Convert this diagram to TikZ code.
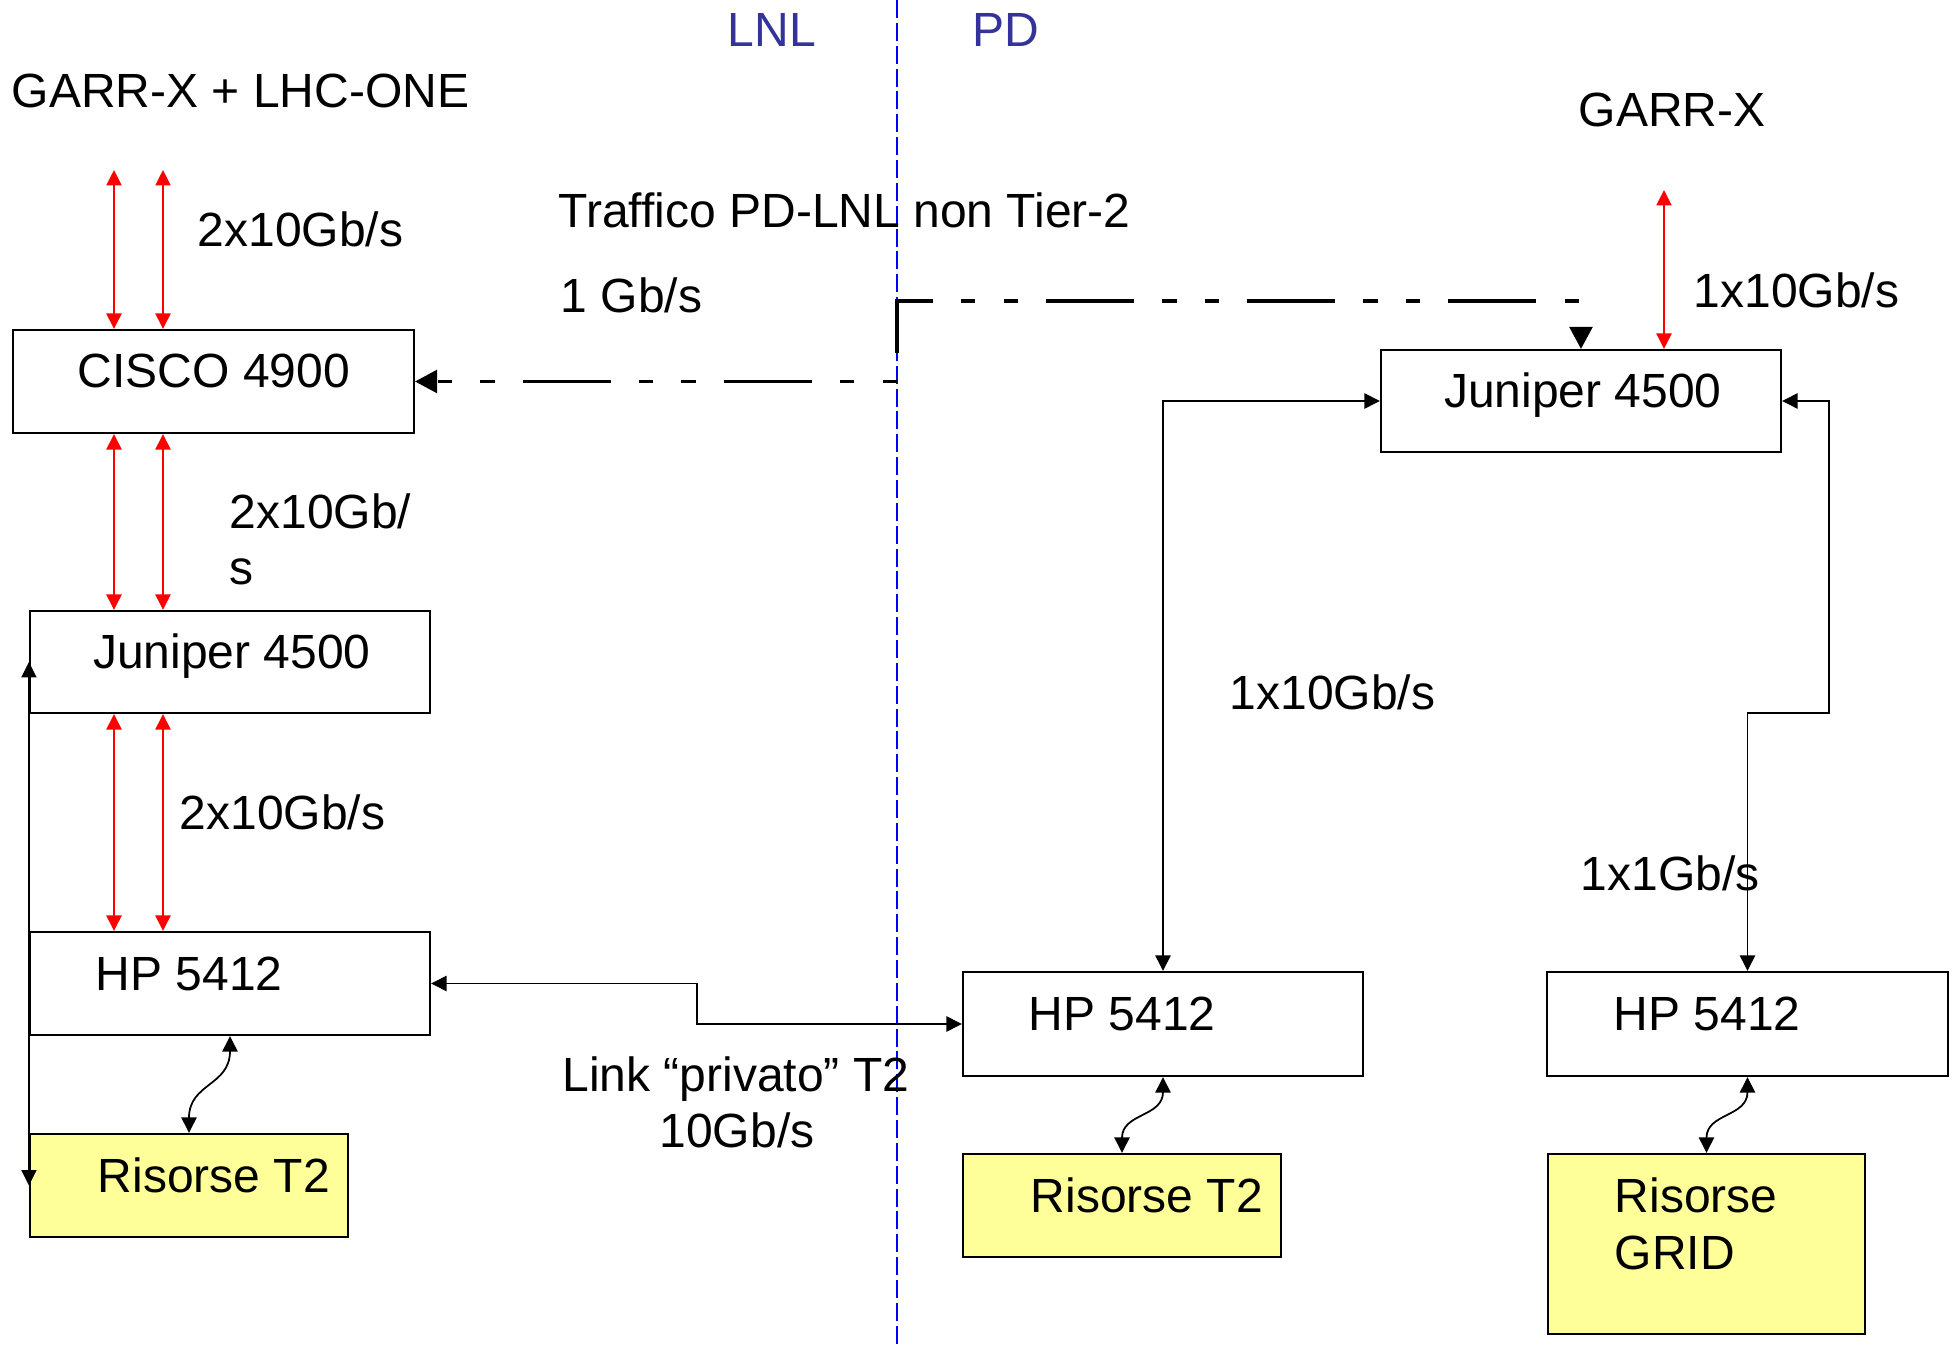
\documentclass[tikz,border=0pt]{standalone}
\usepackage{fontspec}
\setmainfont{Liberation Sans}
\usetikzlibrary{arrows.meta,calc}
\newdimen\px \px=0.01cm
\definecolor{lblue}{HTML}{333399}
\definecolor{ryellow}{HTML}{FFFF99}
\tikzset{
  box/.style={draw=black, line width=0.6pt, inner sep=0pt, rectangle},
  res/.style={box, fill=ryellow},
  lbl/.style={inner sep=0pt, anchor=base west, font=\fontsize{13.65pt}{16pt}\selectfont},
  conn/.style={line width=0.5pt, >={Triangle[length=4.4pt,width=4.3pt]}, <->},
  redconn/.style={conn, draw=red},
  traffic/.style={line width=0.95pt, >={Triangle[length=6.3pt,width=6.5pt]}, ->},
}
\begin{document}
\begin{tikzpicture}[x=0.01cm,y=-0.01cm]
\useasboundingbox (0,0) rectangle (1959,1346);
% LNL / PD divider
\coordinate (dtop) at (897,0);
\coordinate (dbot) at (897,1346);
\draw[blue, line width=0.5pt, dash pattern=on 5.1pt off 1.4pt] (dtop) -- (dbot);
\node[lbl, text=lblue, anchor=base] (lnl) at (772,47) {LNL};
\node[lbl, text=lblue, anchor=base] (pd) at (1006,47) {PD};

% boxes
\node[box, minimum width=401\px, minimum height=103\px] (cisco) at (213.5,381.5) {};
\node[box, minimum width=400\px, minimum height=102\px] (jun1) at (230,662) {};
\node[box, minimum width=400\px, minimum height=103\px] (hp1) at (230,983.5) {};
\node[res, minimum width=318\px, minimum height=103\px] (ris1) at (189,1185.5) {};
\node[box, minimum width=400\px, minimum height=102\px] (jun2) at (1581,401) {};
\node[box, minimum width=400\px, minimum height=104\px] (hp2) at (1163,1024) {};
\node[res, minimum width=318\px, minimum height=103\px] (ris2) at (1122,1205.5) {};
\node[box, minimum width=401\px, minimum height=104\px] (hp3) at (1747.5,1024) {};
\node[res, minimum width=317\px, minimum height=180\px] (grid) at (1706.5,1244) {};

% box texts
\node[lbl, anchor=base] (tcisco) at (214,388) {CISCO 4900};
\node[lbl, anchor=base] (tjun1) at (232,669) {Juniper 4500};
\node[lbl, anchor=base] (tjun2) at (1583,408) {Juniper 4500};
\node[lbl] (thp1) at (95,991) {HP 5412};
\node[lbl] (thp2) at (1028,1031) {HP 5412};
\node[lbl] (thp3) at (1613,1031) {HP 5412};
\node[lbl] (tris1) at (97,1193) {Risorse T2};
\node[lbl] (tris2) at (1030,1213) {Risorse T2};
\node[lbl] (tgrid1) at (1614,1212) {Risorse};
\node[lbl] (tgrid2) at (1614,1270) {GRID};

% other texts
\node[lbl] (garrlhc) at (11,108) {GARR-X + LHC-ONE};
\node[lbl] (l1) at (197,247) {2x10Gb/s};
\node[lbl] (traf) at (558,228) {Traffico PD-LNL non Tier-2};
\node[lbl] (gb1) at (560,313) {1 Gb/s};
\node[lbl] (l2a) at (229,529) {2x10Gb/};
\node[lbl] (l2b) at (229,585) {s};
\node[lbl] (l3) at (179,830) {2x10Gb/s};
\node[lbl] (garr) at (1578,127) {GARR-X};
\node[lbl] (l4) at (1693,308) {1x10Gb/s};
\node[lbl] (l5) at (1229,710) {1x10Gb/s};
\node[lbl] (l6) at (1580,891) {1x1Gb/s};
\node[lbl, anchor=base] (priv1) at (736,1092) {Link “privato” T2};
\node[lbl, anchor=base] (priv2) at (737,1148) {10Gb/s};

% red links
\coordinate (ra) at (114,170);
\coordinate (rb) at (163,170);
\coordinate (rc) at (1664,190);
\draw[redconn] (ra) -- (cisco.north -| ra);
\draw[redconn] (rb) -- (cisco.north -| rb);
\draw[redconn] (cisco.south -| ra) -- (jun1.north -| ra);
\draw[redconn] (cisco.south -| rb) -- (jun1.north -| rb);
\draw[redconn] (jun1.south -| ra) -- (hp1.north -| ra);
\draw[redconn] (jun1.south -| rb) -- (hp1.north -| rb);
\draw[redconn] (rc) -- (jun2.north -| rc);

% black links
\draw[conn] (jun1.west) -- (ris1.west);
\draw[conn] (hp2.north) |- (jun2.west);
\coordinate (rbend) at (1829,713);
\draw[conn] (jun2.east) -| (rbend) -| (hp3.north);
\coordinate (pbend) at (697,983.5);
\draw[conn] (hp1.east) -- (pbend) |- (hp2.west);
\draw[conn] (hp1.south) .. controls +(0,50) and +(0,-50) .. (ris1.north);
\draw[conn] (hp2.south) .. controls +(0,40) and +(0,-40) .. (ris2.north);
\draw[conn] (hp3.south) .. controls +(0,40) and +(0,-40) .. (grid.north);

% non Tier-2 traffic
\coordinate (dl) at (897,381.5);
\draw[traffic, dash pattern=on 4.1pt off 8pt on 4.1pt off 8pt on 25pt off 8pt] (dl) -- (cisco.east);
\coordinate (du) at (897,353);
\coordinate (dtopb) at (897,301);
\draw[traffic, dash pattern=on 25pt off 8pt on 4.1pt off 8pt on 4.1pt off 8pt] (du) -- (dtopb) -| (jun2.north);
\end{tikzpicture}
\end{document}
